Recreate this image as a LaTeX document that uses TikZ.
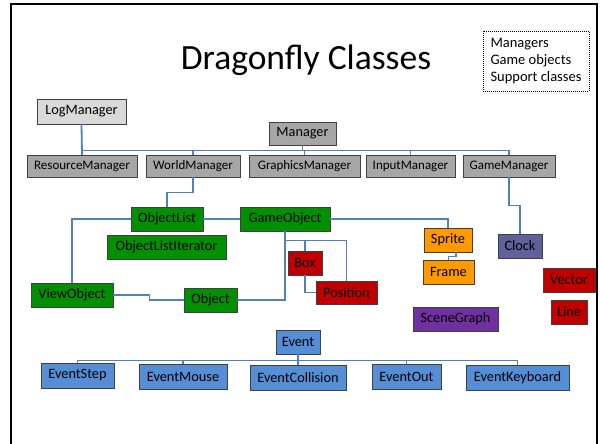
\documentclass[tikz,border=0pt]{standalone}
\usepackage{fontspec}
\setmainfont{Carlito}
\usetikzlibrary{calc}
\definecolor{connblue}{HTML}{4F81BD}
\definecolor{mgrgray}{HTML}{A6A6A6}
\definecolor{loggray}{HTML}{D9D9D9}
\definecolor{objgreen}{HTML}{009000}
\definecolor{supred}{HTML}{C00000}
\definecolor{sprorange}{HTML}{FF9900}
\definecolor{clockslate}{HTML}{60609C}
\definecolor{scenepurple}{HTML}{7030A0}
\definecolor{evblue}{HTML}{558ED5}
\begin{document}
\begin{tikzpicture}[x=1pt,y=-1pt,
  cls/.style={draw=black!75, line width=0.8pt, inner sep=0pt, text=black,
    font=\fontsize{14.3}{16}\selectfont, minimum height=24pt},
  mgr/.style={cls, fill=mgrgray, font=\fontsize{13}{15}\selectfont, minimum height=22pt},
  logm/.style={cls, fill=loggray},
  gobj/.style={cls, fill=objgreen},
  supp/.style={cls, fill=supred},
  spr/.style={cls, fill=sprorange},
  clk/.style={cls, fill=clockslate},
  scn/.style={cls, fill=scenepurple},
  evt/.style={cls, fill=evblue, minimum height=25pt},
  link/.style={draw=connblue, line width=1.8pt},
]
\useasboundingbox (0,0) rectangle (600,444);
\fill[white] (0,0) rectangle (600,444);
\draw[line width=2pt] (11,444) -- (11,4) -- (597,4) -- (597,444);

% title and legend
\node[anchor=base, inner sep=0pt] (title) at (306,70) {\fontsize{35.5}{40}\selectfont Dragonfly Classes};
\node[draw, dash pattern=on 1pt off 1pt, line width=0.7pt, minimum width=106pt, minimum height=60pt,
  align=left, inner sep=0pt, font=\fontsize{14.5}{17}\selectfont] (legend) at (536,61)
  {Managers\\Game objects\\Support classes};

% managers
\node[logm, minimum width=89pt, minimum height=25pt] (lm) at (81.5,111.5) {LogManager};
\node[mgr, minimum width=67pt, minimum height=23pt, font=\fontsize{14.3}{16}\selectfont] (mg) at (302.5,133.5) {Manager};
\node[mgr, minimum width=110pt] (rm) at (82,166) {ResourceManager};
\node[mgr, minimum width=94pt] (wm) at (193,166) {WorldManager};
\node[mgr, minimum width=111pt] (grm) at (304.5,166) {GraphicsManager};
\node[mgr, minimum width=89pt] (im) at (410.5,166) {InputManager};
\node[mgr, minimum width=92pt] (gam) at (509,166) {GameManager};

% game objects
\node[gobj, minimum width=72pt] (ol) at (167,219) {ObjectList};
\node[gobj, minimum width=90pt] (go) at (285,219) {GameObject};
\node[gobj, minimum width=119pt] (oli) at (166.5,247) {ObjectListIterator};
\node[gobj, minimum width=82pt] (vo) at (72,295) {ViewObject};
\node[gobj, minimum width=53pt] (obj) at (210.5,300) {Object};

% support classes
\node[supp, minimum width=34pt] (box) at (305,263) {Box};
\node[supp, minimum width=61pt, minimum height=23pt] (pos) at (346.5,292.5) {Position};
\node[spr, minimum width=48pt] (sp) at (448,240) {Sprite};
\node[spr, minimum width=51pt] (fr) at (448.5,272) {Frame};
\node[clk, minimum width=44pt] (ck) at (520,246) {Clock};
\node[supp, minimum width=52pt] (vec) at (569,280) {Vector};
\node[supp, minimum width=36pt] (ln) at (569,312) {Line};
\node[scn, minimum width=85pt] (sg) at (455.5,319) {SceneGraph};

% events
\node[evt, minimum width=44pt, minimum height=24pt] (ev) at (298,342) {Event};
\node[evt, minimum width=73pt] (es) at (77.5,375.5) {EventStep};
\node[evt, minimum width=88pt] (em) at (183,376.5) {EventMouse};
\node[evt, minimum width=96pt] (ec) at (298,377.5) {EventCollision};
\node[evt, minimum width=69pt] (eo) at (406.5,377) {EventOut};
\node[evt, minimum width=103pt] (ek) at (517.5,377.5) {EventKeyboard};

% connectors: managers
\draw[link] (lm.south) -- (rm.north);
\draw[link] (mg.south) -- ++(0,5) -| (rm.north);
\draw[link] (mg.south) -- ++(0,5) -| (wm.north);
\draw[link] (mg.south) -- ++(0,5) -| (grm.north);
\draw[link] (mg.south) -- ++(0,5) -| (im.north);
\draw[link] (mg.south) -- ++(0,5) -| (gam.north);
\draw[link] (wm.south) -- ++(0,15) -| (ol.north);
\draw[link] (gam.south) -- ++(0,28) -| (ck.north);

% game objects
\draw[link] (ol.east) -- (go.west);
\draw[link] (ol.west) -| (vo.north);
\draw[link] (vo.east) -- ++(36,0) |- (obj.west);
\draw[link] (obj.east) -| (go.south);
\coordinate (gsplit) at ($(go.south)+(0,9)$);
\draw[link] (gsplit) -| (box.north);
\draw[link] (gsplit) -| (pos.north);
\draw[link] (box.south) |- (pos.west);
\draw[link] (go.east) -| (sp.north);
\draw[link] ([xshift=8pt]sp.south) -- ++(0,4) -| (fr.north);

% events
\draw[link] (ev.south) -- ++(0,6) -| (es.north);
\draw[link] (ev.south) -- ++(0,6) -| (em.north);
\draw[link] (ev.south) -- (ec.north);
\draw[link] (ev.south) -- ++(0,6) -| (eo.north);
\draw[link] (ev.south) -- ++(0,6) -| (ek.north);
\end{tikzpicture}
\end{document}
